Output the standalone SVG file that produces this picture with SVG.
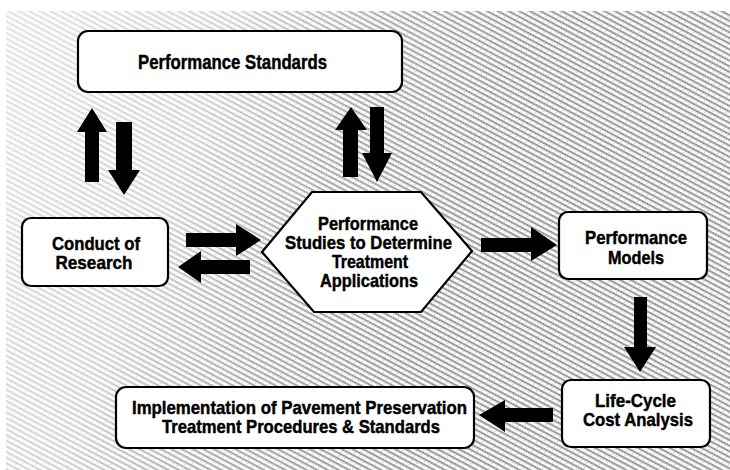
<svg xmlns="http://www.w3.org/2000/svg" width="730" height="470" viewBox="0 0 730 470">
<defs>
<style>
.box{fill:#fff;stroke:#000;stroke-width:2.2}
.t{font-family:"Liberation Sans","Arial",sans-serif;font-weight:bold;font-size:19px;fill:#000;stroke:#000;stroke-width:0.45;text-anchor:middle}
.big{font-size:21px}
.arr{fill:#000}
</style>
<pattern id="dots" width="6" height="5" patternUnits="userSpaceOnUse" patternTransform="rotate(28)">
<rect x="0" y="0" width="6" height="5" fill="#fff"/>
<rect x="0" y="0" width="6" height="2.2" fill="#a6a6a6"/>
<rect x="1" y="0.4" width="1" height="1" fill="#777"/>
<rect x="4" y="0.8" width="1" height="1" fill="#808080"/>
<rect x="3" y="3.2" width="1" height="1" fill="#bbb"/>
</pattern>
<linearGradient id="fade" x1="0" y1="0" x2="1" y2="0.25">
<stop offset="0" stop-color="#fff" stop-opacity="0.72"/>
<stop offset="0.3" stop-color="#fff" stop-opacity="0.55"/>
<stop offset="0.5" stop-color="#fff" stop-opacity="0.15"/>
<stop offset="0.7" stop-color="#fff" stop-opacity="0"/>
<stop offset="1" stop-color="#fff" stop-opacity="0"/>
</linearGradient>
</defs>
<rect width="730" height="470" fill="#fff"/>
<rect x="6" y="11" width="724" height="459" fill="url(#dots)"/>
<rect x="6" y="11" width="724" height="459" fill="url(#fade)"/>

<g id="connectors">
<polygon class="arr" points="92,108 107,132 99,132 99,182 85,182 85,132 77,132"/>
<polygon class="arr" points="116,122 132,122 132,170 140,170 124,195 108,170 116,170"/>
<polygon class="arr" points="351,107 367,130 358,130 358,177 343,177 343,130 335,130"/>
<polygon class="arr" points="370,107 384,107 384,153 392,153 377,182 362,153 370,153"/>
<polygon class="arr" points="186,233 236,233 236,224 261,240 236,256 236,247 186,247"/>
<polygon class="arr" points="178,267 201,251 201,260 250,260 250,274 201,274 201,283"/>
<polygon class="arr" points="481,238 531,238 531,227 557,245 531,261 531,252 481,252"/>
<polygon class="arr" points="634,297 647,297 647,347 656,347 640,372 624,347 634,347"/>
<polygon class="arr" points="479,415 505,400 505,408 553,408 553,422 505,422 505,432"/>
</g>

<g id="performance-standards">
<rect class="box" x="78" y="31" width="324" height="61" rx="10"/>
<text class="t big" x="232.5" y="69" textLength="189" lengthAdjust="spacingAndGlyphs">Performance Standards</text>
</g>

<g id="conduct-of-research">
<rect class="box" x="22" y="218" width="146" height="68" rx="9"/>
<text class="t" x="96" y="250" textLength="88" lengthAdjust="spacingAndGlyphs">Conduct of</text>
<text class="t" x="94" y="269" textLength="77" lengthAdjust="spacingAndGlyphs">Research</text>
</g>

<g id="performance-studies">
<polygon class="box" points="262,252 312,192 421,192 472,251 421,312 314,312"/>
<text class="t" x="368" y="230" textLength="100" lengthAdjust="spacingAndGlyphs">Performance</text>
<text class="t" x="368.5" y="249" textLength="167" lengthAdjust="spacingAndGlyphs">Studies to Determine</text>
<text class="t" x="370" y="268" textLength="76" lengthAdjust="spacingAndGlyphs">Treatment</text>
<text class="t" x="369" y="287" textLength="98" lengthAdjust="spacingAndGlyphs">Applications</text>
</g>

<g id="performance-models">
<rect class="box" x="559" y="212" width="148" height="67" rx="9"/>
<text class="t" x="636" y="244" textLength="102" lengthAdjust="spacingAndGlyphs">Performance</text>
<text class="t" x="636" y="264" textLength="56" lengthAdjust="spacingAndGlyphs">Models</text>
</g>

<g id="life-cycle-cost-analysis">
<rect class="box" x="562" y="380" width="148" height="67" rx="9"/>
<text class="t" x="635.5" y="407" textLength="81" lengthAdjust="spacingAndGlyphs">Life-Cycle</text>
<text class="t" x="638" y="426" textLength="110" lengthAdjust="spacingAndGlyphs">Cost Analysis</text>
</g>

<g id="implementation">
<rect class="box" x="116" y="387" width="358" height="61" rx="10"/>
<text class="t" x="299.5" y="414" textLength="335" lengthAdjust="spacingAndGlyphs">Implementation of Pavement Preservation</text>
<text class="t" x="301" y="433" textLength="278" lengthAdjust="spacingAndGlyphs">Treatment Procedures &amp; Standards</text>
</g>
</svg>
